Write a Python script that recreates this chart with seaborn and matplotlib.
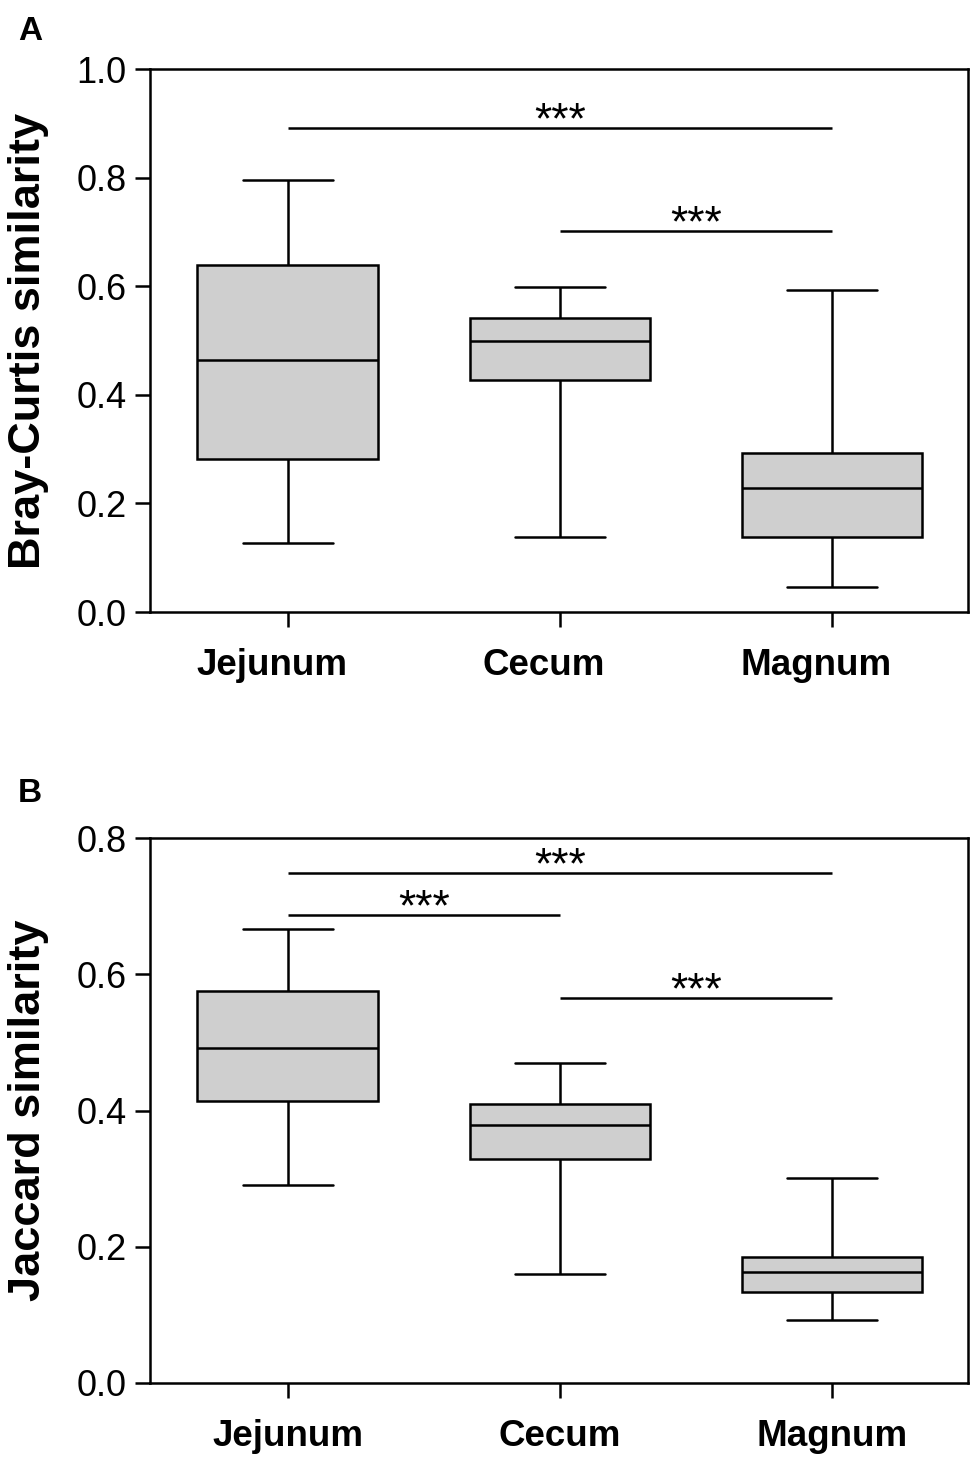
import numpy as np
import pandas as pd
import matplotlib
matplotlib.use("Agg")
import matplotlib.pyplot as plt
import seaborn as sns
from matplotlib.transforms import ScaledTranslation

# ---- data (five-number summaries) ----
sites = ["Jejunum", "Cecum", "Magnum"]
# order: lower whisker, Q1, median, Q3, upper whisker
bray_jejunum = [0.127, 0.282, 0.464, 0.639, 0.796]
bray_cecum = [0.138, 0.427, 0.499, 0.541, 0.599]
bray_magnum = [0.046, 0.138, 0.228, 0.293, 0.593]

jacc_jejunum = [0.291, 0.414, 0.492, 0.575, 0.666]
jacc_cecum = [0.160, 0.329, 0.379, 0.410, 0.470]
jacc_magnum = [0.092, 0.134, 0.163, 0.185, 0.301]

# significance brackets: (from index, to index, height, label)
bray_sig = [(0, 2, 0.891, "***"), (1, 2, 0.702, "***")]
jacc_sig = [(0, 2, 0.749, "***"), (0, 1, 0.687, "***"), (1, 2, 0.565, "***")]

bray_ticks = [0.0, 0.2, 0.4, 0.6, 0.8, 1.0]
jacc_ticks = [0.0, 0.2, 0.4, 0.6, 0.8]


def make_df(groups):
    rows = []
    for name, vals in zip(sites, groups):
        for v in vals:
            rows.append({"site": name, "value": v})
    return pd.DataFrame(rows)


sns.set_theme(style="white")
plt.rcParams["font.family"] = ["Liberation Sans", "DejaVu Sans"]
plt.rcParams["text.color"] = "black"
plt.rcParams["axes.labelcolor"] = "black"
plt.rcParams["xtick.color"] = "black"
plt.rcParams["ytick.color"] = "black"

W, H = 975, 1462
fig = plt.figure(figsize=(W / 100, H / 100), dpi=100)

def px_axes(left, right, top, bottom):
    return fig.add_axes([left / W, 1 - bottom / H, (right - left) / W, (bottom - top) / H])

axA = px_axes(150, 968, 69, 612)
axB = px_axes(150, 968, 838, 1383)

LW = 1.8

panels = [
    (axA, make_df([bray_jejunum, bray_cecum, bray_magnum]), bray_sig, bray_ticks,
     "Bray-Curtis similarity", 1.0, -16),
    (axB, make_df([jacc_jejunum, jacc_cecum, jacc_magnum]), jacc_sig, jacc_ticks,
     "Jaccard similarity", 0.8, 0),
]

for ax, df, sig, ticks, ylab, ymax, xshift in panels:
    sns.boxplot(data=df, x="site", y="value", ax=ax, order=sites,
                whis=(0, 100), width=0.665, color="#cfcfcf", saturation=1,
                linecolor="black", linewidth=LW, fliersize=0)
    ax.set_xlim(-0.507, 2.5)
    ax.set_ylim(0, ymax)
    ax.set_yticks(ticks)
    ax.set_yticklabels([f"{t:.1f}" for t in ticks])
    for s in ax.spines.values():
        s.set_visible(True)
        s.set_color("black")
        s.set_linewidth(LW)
    ax.tick_params(axis="both", which="major", direction="out", length=11,
                   width=LW, color="black", labelcolor="black", left=True, bottom=True)
    ax.tick_params(axis="y", labelsize=26, pad=6)
    ax.tick_params(axis="x", labelsize=26.5, pad=15)
    for lab in ax.get_xticklabels():
        lab.set_fontweight("bold")
        if xshift:
            lab.set_transform(lab.get_transform() +
                              ScaledTranslation(xshift / 100, 0, fig.dpi_scale_trans))
    ax.set_xlabel("")
    ax.set_ylabel(ylab, fontsize=32.5, fontweight="bold", color="black")
    ax.yaxis.set_label_coords(-0.124, 0.5)
    for i0, i1, yv, txt in sig:
        ax.plot([i0, i1], [yv, yv], color="black", lw=LW, solid_capstyle="butt")
        ax.annotate(txt, ((i0 + i1) / 2, yv), xytext=(0, -4), textcoords="offset points",
                    ha="center", va="baseline", fontsize=32, color="black")

fig.text(18 / W, 1 - 40 / H, "A", fontsize=24, fontweight="bold", ha="left", va="baseline")
fig.text(18 / W, 1 - 802 / H, "B", fontsize=24, fontweight="bold", ha="left", va="baseline")

fig.savefig("out.png", dpi=100)
